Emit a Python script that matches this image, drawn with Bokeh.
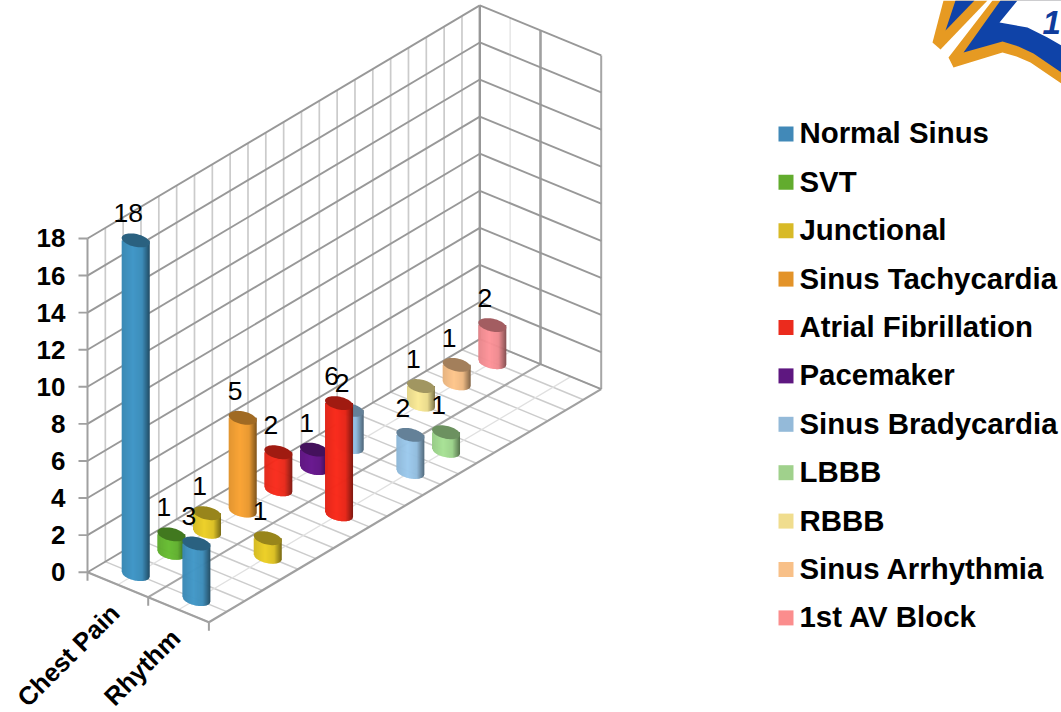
import numpy as np
from bokeh.plotting import figure
from bokeh.models import ColumnDataSource, Range1d
from bokeh.embed import file_html
from bokeh.resources import INLINE
from bokeh.core.properties import value as fixed

categories = ["Chest Pain", "Rhythm"]
series = ["Normal Sinus", "SVT", "Junctional", "Sinus Tachycardia", "Atrial Fibrillation", "Pacemaker",
          "Sinus Bradycardia", "LBBB", "RBBB", "Sinus Arrhythmia", "1st AV Block"]
chest_pain = [18, 1, 1, 5, 2, 1, 2, 0, 1, 1, 2]
rhythm = [3, 0, 1, 0, 6, 0, 2, 1, 0, 0, 0]
swatch_colors = ["#4189B8", "#62AC2E", "#D8BA27", "#E39329", "#EB2B1D", "#5E1780",
                 "#94BAD9", "#A0D18C", "#F0DD8E", "#F8C088", "#FB8D8D"]
body_colors = ["#4298C8", "#66BC30", "#EDD02A", "#FAA537", "#FA2A1A", "#6A1A90",
               "#9CCAEE", "#A8E296", "#FBEB98", "#FFC78E", "#FF9298"]
y_ticks = list(range(0, 19, 2))

# projection of the 3-D chart box onto the page
W, H = 1061, 712
PX_PER_VALUE = 18.54
ORIGIN_X, ORIGIN_Y = 87.0, 571.7
SX, SY_PX = 392.3 / 11, -233.1 / 11      # one series step towards the back
CX, CY_PX = 121.4 / 2, 50.0 / 2          # one category step towards the front
def to_v(py): return (ORIGIN_Y - py) / PX_PER_VALUE
def project(s, c, v=0.0):
    return ORIGIN_X + s * SX + c * CX, v - (s * SY_PX + c * CY_PX) / PX_PER_VALUE

p = figure(width=W, height=H, output_backend="svg", toolbar_location=None,
           x_range=Range1d(0, W), y_range=Range1d(to_v(H), to_v(0)),
           x_axis_location=None, y_axis_location=None,
           min_border_left=0, min_border_right=0, min_border_top=0, min_border_bottom=0,
           outline_line_color=None, background_fill_color=None, border_fill_color=None)
p.grid.visible = False

ns, nc, top = len(series), len(categories), max(y_ticks)
def lines(segs, color, width):
    xs, ys = [], []
    for a, b in segs:
        pa, pb = project(*a), project(*b)
        xs.append([pa[0], pb[0]]); ys.append([pa[1], pb[1]])
    p.multi_line(xs, ys, line_color=color, line_width=width)

lines([((s / 2, 0, 0), (s / 2, nc, 0)) for s in range(0, 2 * ns + 1)], "#cccccc", 1.5)
lines([((0, 0.5, 0), (ns, 0.5, 0))], "#e0e0e0", 1.3)
lines([((0, 1.5, 0), (ns, 1.5, 0))], "#e0e0e0", 1.3)
lines([((0, 1, 0), (ns, 1, 0))], "#a6a6a6", 2)
lines([((0, 2, 0), (ns, 2, 0)), ((0, 0, 0), (0, 2, 0))], "#a0a0a0", 2.2)
lines([((s / 2, 0, 0), (s / 2, 0, top)) for s in range(1, 2 * ns)], "#cbcbcb", 1.7)
lines([((ns, 0.5, 0), (ns, 0.5, top))], "#e4e4e4", 1.4)
lines([((ns, 1, 0), (ns, 1, top))], "#a0a0a0", 2.6)
lines([((ns, 2, 0), (ns, 2, top))], "#a6a6a6", 2)
lines([((ns, 0, 0), (ns, 0, top))], "#979797", 2.4)
for t in y_ticks:
    lines([((0, 0, t), (ns, 0, t)), ((ns, 0, t), (ns, 2, t))], "#989898", 1.9)
tick = 8.5 / PX_PER_VALUE
lines([((0, c, 0), (0, c, -tick)) for c in (0, 1, 2)], "#a0a0a0", 2)
lines([((0, 0, 0), (0, 0, top))], "#a0a0a0", 2)

# value axis: tick marks and labels on the left edge of the box
p.multi_line([[ORIGIN_X - 9, ORIGIN_X] for _ in y_ticks], [[t, t] for t in y_ticks],
             line_color="#a0a0a0", line_width=1.9)
p.text([ORIGIN_X - 22] * len(y_ticks), y_ticks, text=[str(t) for t in y_ticks], text_align="right",
       text_baseline="middle", text_font=fixed("Liberation Sans"), text_font_style="bold",
       text_font_size="26px", text_color="#000000")

R, E, TILT = 14.0, 6.5, 2.5
U = np.linspace(-1, 1, 29)
STOPS = [-1, -0.2, 0.45, 0.85, 1]
FACTORS = [0.9, 1.0, 0.93, 0.62, 0.5]
def shade(hex_color, f):
    rgb = [int(hex_color[i:i + 2], 16) for i in (1, 3, 5)]
    return "#%02x%02x%02x" % tuple(int(round(min(255, c * f))) for c in rgb)

cyl = []
for c, vals in enumerate([chest_pain, rhythm]):
    for s, v in enumerate(vals):
        if v:
            cyl.append((project(s + .5, c + .5)[1], s, c, v))
cyl.sort(key=lambda t: -t[0])

xs, ys, fills = [], [], []
lab_x, lab_y, lab_t = [], [], []
for base, s, c, v in cyl:
    cx, cy = project(s + .5, c + .5)
    for u0, u1 in zip(U[:-1], U[1:]):
        um = (u0 + u1) / 2
        xa, xb = u0, min(1, u1 + 0.04)
        low = lambda u: (E * np.sqrt(max(0, 1 - u * u)) + TILT * u) / PX_PER_VALUE
        xs.append([cx + R * xa, cx + R * xb, cx + R * xb, cx + R * xa])
        ys.append([cy + v, cy + v, cy - low(xb), cy - low(xa)])
        fills.append(shade(body_colors[s], np.interp(um, STOPS, FACTORS)))
    th = np.linspace(0, 2 * np.pi, 60)
    xs.append(list(cx + R * np.cos(th)))
    ys.append(list(cy + v - (E * np.sin(th) + TILT * np.cos(th)) / PX_PER_VALUE))
    fills.append(shade(body_colors[s], 0.64))
    lab_x.append(cx); lab_y.append(cy + v); lab_t.append(str(v))

p.patches(xs="xs", ys="ys", fill_color="fills", line_color=None,
          source=ColumnDataSource(dict(xs=xs, ys=ys, fills=fills)))
p.text(lab_x, lab_y, text=lab_t, x_offset=-7.5, y_offset=-27, text_align="center", text_baseline="middle",
       text_font=fixed("Liberation Sans"), text_font_size="26.5px", text_color="#000000")

# category labels along the front edge
ends = [project(0, c + .5) for c in range(nc)]
p.text([e[0] - 3 for e in ends], [e[1] - 24 / PX_PER_VALUE for e in ends], text=categories,
       angle=45, angle_units="deg", text_align="right", text_baseline="middle",
       text_font=fixed("Liberation Sans"), text_font_style="bold", text_font_size="25.5px", text_color="#000000")

# legend, one row per series
rows = [to_v(133.4 + i * 48.4) for i in range(len(series))]
p.rect([785.5] * len(series), rows, width=15, height=15, width_units="screen", height_units="screen",
       fill_color=swatch_colors, line_color=None)
p.text([799] * len(series), rows, text=series, y_offset=-1, text_align="left", text_baseline="middle",
       text_font=fixed("Liberation Sans"), text_font_style="bold", text_font_size="29.4px", text_color="#000000")

def logo(pts, color):
    p.patch([a for a, _ in pts], [to_v(b) for _, b in pts], fill_color=color, line_color=None)
logo([(943, 0), (932, 42), (940, 49), (987, 0)], "#E69A22")
logo([(955, 0), (945, 30), (974, 0)], "#0F43A8")
logo([(992, 0), (948, 57), (953, 67), (1002, 52), (1016, 56), (1030, 62), (1061, 83), (1061, 0)], "#E69A22")
logo([(1000, 0), (963, 52), (1002, 41), (1018, 46), (1033, 53), (1061, 72), (1061, 0)], "#0F43A8")
logo([(1017, 0), (999, 22), (1027, 27), (1047, 37), (1061, 45), (1061, 0)], "#FFFFFF")
p.text([1042], [to_v(21.5)], text=["1"], text_align="left", text_baseline="middle",
       text_font=fixed("Liberation Sans"), text_font_style="bold italic", text_font_size="33px", text_color="#0F3C9C")

open("out.html", "w").write(file_html(p, INLINE))
